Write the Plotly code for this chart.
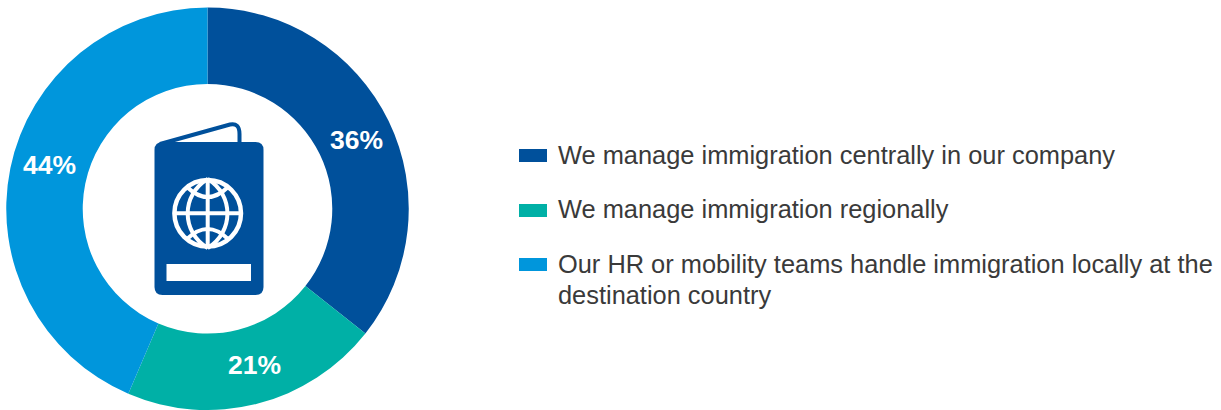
import plotly.graph_objects as go

categories = ["We manage immigration centrally in our company",
              "We manage immigration regionally",
              "Our HR or mobility teams handle immigration locally at the<br>destination country"]
values = [36, 21, 44]
colors = ["#00509B", "#00B0A6", "#0096DC"]

W, H = 1221, 410
FONT = "Liberation Sans"
DARK = "#00509B"
TEXT = "#3A3A3A"

def px(x): return x / W
def py(y): return 1 - y / H

def path(cmds):
    out = []
    for c in cmds:
        letter, nums = c[0], c[1:]
        pts = [f"{px(nums[i]):.6f},{py(nums[i+1]):.6f}" for i in range(0, len(nums), 2)]
        out.append(letter + " ".join(pts))
    return " ".join(out)

shapes = []
def fill_shape(cmds, color):
    shapes.append(dict(type="path", xref="paper", yref="paper", path=path(cmds) + " Z",
                       fillcolor=color, line=dict(width=0), layer="above"))
def stroke_shape(cmds, color, w):
    shapes.append(dict(type="path", xref="paper", yref="paper", path=path(cmds),
                       line=dict(color=color, width=w), fillcolor="rgba(0,0,0,0)", layer="above"))
def circle(cx, cy, r, color, w):
    shapes.append(dict(type="circle", xref="paper", yref="paper",
                       x0=px(cx-r), x1=px(cx+r), y0=py(cy+r), y1=py(cy-r),
                       line=dict(color=color, width=w), fillcolor="rgba(0,0,0,0)", layer="above"))

# passport icon
stroke_shape([("M", 160, 144), ("L", 230, 124.5), ("Q", 239.5, 122.5, 239.5, 134), ("L", 239.5, 143)], DARK, 4)
fill_shape([("M", 163, 142), ("L", 255.5, 142), ("Q", 263.5, 142, 263.5, 150), ("L", 263.5, 287),
            ("Q", 263.5, 295, 255.5, 295), ("L", 162.5, 295), ("Q", 154.5, 295, 154.5, 287),
            ("L", 154.5, 150), ("Q", 154.5, 142, 163, 142)], DARK)
fill_shape([("M", 166.5, 264), ("L", 251, 264), ("L", 251, 281), ("L", 166.5, 281)], "#FFFFFF")
G = (207.7, 213.3)
circle(G[0], G[1], 33.3, "#FFFFFF", 4.5)
stroke_shape([("M", G[0], 179), ("L", G[0], 248)], "#FFFFFF", 4)
stroke_shape([("M", 173, G[1]), ("L", 242, G[1])], "#FFFFFF", 4)
stroke_shape([("M", G[0], 179), ("C", 181, 195, 181, 232, G[0], 248)], "#FFFFFF", 4)
stroke_shape([("M", G[0], 179), ("C", 234, 195, 234, 232, G[0], 248)], "#FFFFFF", 4)
stroke_shape([("M", 187, 187), ("Q", G[0], 207, 228, 187)], "#FFFFFF", 4)
stroke_shape([("M", 187, 239), ("Q", G[0], 219, 228, 239)], "#FFFFFF", 4)

# legend swatches
swatch_y = [149, 204, 258]
for y, c in zip(swatch_y, colors):
    fill_shape([("M", 519, y), ("L", 547, y), ("L", 547, y + 13), ("L", 519, y + 13)], c)

annotations = []
legend_line_y = [[154.5], [208.5], [264, 295]]
for t, ys in zip(categories, legend_line_y):
    for line, y in zip(t.split("<br>"), ys):
        annotations.append(dict(text=line, xref="paper", yref="paper", x=px(556), y=py(y),
                                xanchor="left", yanchor="middle", align="left", showarrow=False,
                                font=dict(family=FONT, size=25.4, color=TEXT)))
label_xy = [(356, 140), (254, 365), (49, 165)]
for v, (x, y) in zip(values, label_xy):
    annotations.append(dict(text=f"<b>{v}%</b>", xref="paper", yref="paper", x=px(x), y=py(y),
                            xanchor="center", yanchor="middle", showarrow=False,
                            font=dict(family=FONT, size=26.5, color="#FFFFFF")))

fig = go.Figure(go.Pie(
    labels=[c.replace("<br>", " ") for c in categories], values=values, sort=False, direction="clockwise",
    rotation=0, hole=0.62, marker=dict(colors=colors, line=dict(width=0)),
    textinfo="none", showlegend=False,
    domain=dict(x=[px(6), px(409)], y=[py(410), py(7.5)]),
))
fig.update_layout(width=W, height=H, autosize=False, margin=dict(l=0, r=0, t=0, b=0),
                  paper_bgcolor="#FFFFFF", shapes=shapes, annotations=annotations)
fig.write_html("out.html", config=dict(displayModeBar=False),
               post_script="document.body.style.margin='0';document.documentElement.style.overflow='hidden';")
